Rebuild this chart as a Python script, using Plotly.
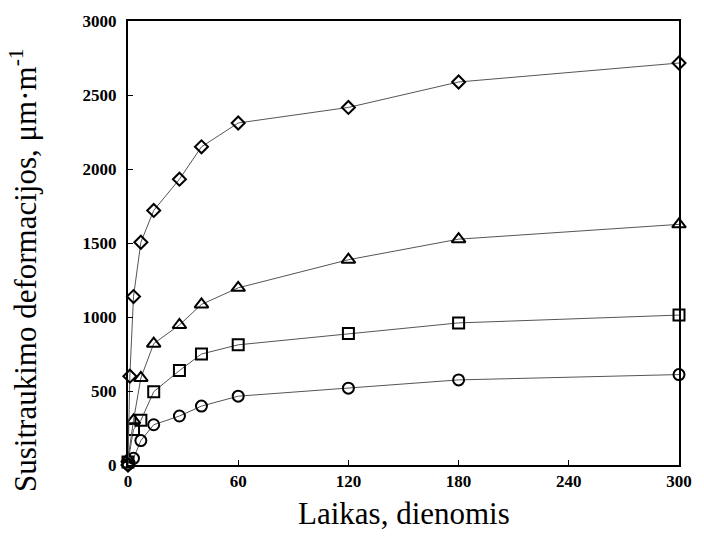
import plotly.graph_objects as go

days_diamond = [0, 1, 3, 7, 14, 28, 40, 60, 120, 180, 300]
vals_diamond = [0, 600, 1138, 1505, 1720, 1931, 2150, 2311, 2416, 2588, 2716]

days_triangle = [0, 3, 7, 14, 28, 40, 60, 120, 180, 300]
vals_triangle = [40, 302, 588, 820, 946, 1085, 1197, 1387, 1526, 1626]

days_square = [0, 3, 7, 14, 28, 40, 60, 120, 180, 300]
vals_square = [20, 240, 302, 495, 638, 750, 812, 888, 960, 1013]

days_circle = [0, 3, 7, 14, 28, 40, 60, 120, 180, 300]
vals_circle = [5, 45, 165, 272, 331, 398, 465, 519, 575, 611]

x_ticks = [0, 60, 120, 180, 240, 300]
y_ticks = [0, 500, 1000, 1500, 2000, 2500, 3000]

FONT = "Liberation Serif, Times New Roman, serif"

fig = go.Figure()
series = [
    (days_circle, vals_circle, "circle-open", 11),
    (days_square, vals_square, "square-open", 11),
    (days_triangle, vals_triangle, "triangle-up-open", 12),
    (days_diamond, vals_diamond, "diamond-open", 10),
]
for xs, ys, sym, sz in series:
    fig.add_trace(go.Scatter(
        x=xs, y=ys, mode="lines+markers",
        line=dict(color="#555555", width=1),
        marker=dict(symbol=sym, size=sz, color="black",
                    line=dict(color="black", width=2)),
        showlegend=False, cliponaxis=False,
    ))

fig.update_layout(
    width=704, height=545,
    margin=dict(l=128, r=19, t=19, b=80),
    paper_bgcolor="white", plot_bgcolor="white",
    font=dict(family=FONT, color="black"),
    xaxis=dict(
        range=[0, 300], tickvals=x_ticks, ticktext=[str(v) for v in x_ticks],
        showgrid=False, zeroline=False, showline=True, mirror=True,
        linecolor="black", linewidth=2, ticks="inside", ticklen=5,
        tickcolor="black", tickwidth=1,
        tickfont=dict(family=FONT, size=17, color="black", weight="bold"),
    ),
    yaxis=dict(
        range=[0, 3000], tickvals=y_ticks, ticktext=[str(v) for v in y_ticks],
        showgrid=False, zeroline=False, showline=True, mirror=True,
        linecolor="black", linewidth=2, ticks="inside", ticklen=5,
        tickcolor="black", tickwidth=1,
        tickfont=dict(family=FONT, size=17, color="black", weight="bold"),
        ticklabelstandoff=6,
    ),
    annotations=[
        dict(
            text="Susitraukimo deformacijos, μm·m<sup>-1</sup>",
            xref="paper", yref="paper", x=-0.19, y=0.44,
            xanchor="center", yanchor="middle", textangle=-90, showarrow=False,
            font=dict(family=FONT, size=31, color="black"),
        ),
        dict(
            text="Laikas, dienomis",
            xref="paper", yref="paper", x=0.5, y=-0.11,
            xanchor="center", yanchor="middle", showarrow=False,
            font=dict(family=FONT, size=31, color="black"),
        ),
    ],
)

fig.write_html("out.html")
